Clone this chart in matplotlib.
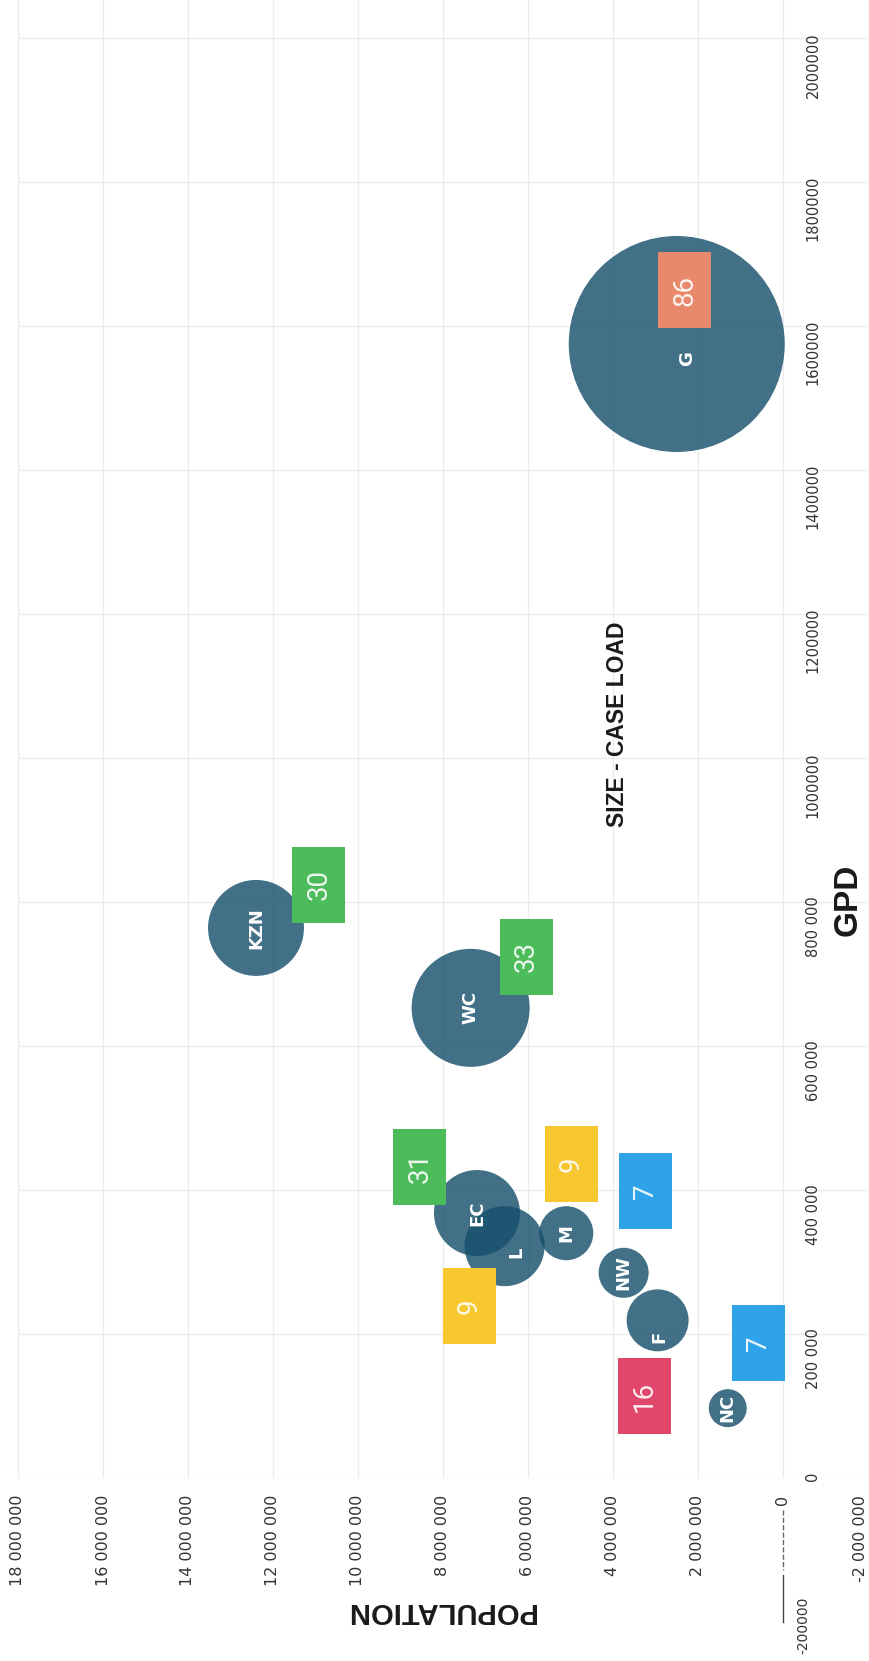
import matplotlib
matplotlib.use('Agg')
import matplotlib.pyplot as plt
import matplotlib.transforms as mtransforms
from matplotlib.patches import Rectangle
from matplotlib.lines import Line2D
import numpy as np

# Daten (Provinzen)
provinces = ['G', 'KZN', 'WC', 'EC', 'L', 'M', 'NW', 'F', 'NC']
population = [2500000, 12400000, 7350000, 7200000, 6550000, 5100000, 3750000, 2950000, 1300000]
gpd = [1575000, 764000, 653000, 368000, 322000, 340000, 285000, 219000, 97000]
case_load = [116.6, 23.0, 34.8, 18.5, 16.0, 7.3, 6.25, 9.6, 3.6]

# Kennzahl in den Kaestchen
box_values = [86, 30, 33, 31, 9, 9, 7, 16, 7]
box_colors = ['#e8896b', '#4cbb5a', '#4cbb5a', '#4cbb5a', '#f6c72f', '#f6c72f',
              '#2ea3ea', '#e0476b', '#2ea3ea']

pop_ticks = [18000000, 16000000, 14000000, 12000000, 10000000, 8000000,
             6000000, 4000000, 2000000, 0, -2000000]
pop_ticklabels = ['18 000 000', '16 000 000', '14 000 000', '12 000 000', '10 000 000',
                  '8 000 000', '6 000 000', '4 000 000', '2 000 000', '0', '-2 000 000']
gpd_ticks = [0, 200000, 400000, 600000, 800000, 1000000, 1200000, 1400000,
             1600000, 1800000, 2000000]
gpd_ticklabels = ['0', '200 000', '400 000', '600 000', '800 000', '1000000',
                  '1200000', '1400000', '1600000', '1800000', '2000000']

# Layout (Pixel am Bildschirm: rechts, oben)
box_dx = [8, 63, 56, -57, -35, 5, 22, -13, 31]
box_dy = [54, 43, 51, 46, -60, 69, 82, -76, 65]
lab_dx = [10, 0, 0, 0, 12, 0, 0, 2, 0]
lab_dy = [-15, 0, 0, 0, -6, 0, 0, -17, 0]

W, H = 869, 1661
fig = plt.figure(figsize=(W / 100, H / 100), dpi=100)
ax = fig.add_axes([18 / W, 1 - 1478 / H, 850 / W, 1478 / H])
ax.set_xlim(18000000, -2000000)
ax.set_ylim(0, 1478 / 720 * 1e6)
for s in ax.spines.values():
    s.set_visible(False)

ax.set_xticks(pop_ticks)
ax.set_xticklabels(pop_ticklabels, rotation=90, fontsize=11.5, color='#333333')
ax.get_xticklabels()[-1].set_ha('right')   # letzter Wert am Bildrand
ax.set_yticks(gpd_ticks)
ax.set_yticklabels(gpd_ticklabels, rotation=90, fontsize=10.5, color='#333333')
ax.tick_params(axis='x', length=0, pad=12)
ax.tick_params(axis='y', length=0, left=False, labelleft=False,
               right=True, labelright=True, pad=-45)
ax.grid(True, color='#ebebeb', linewidth=1.0)
ax.set_axisbelow(True)

# Blasen
sizes = np.array(case_load) * 207.4
ax.scatter(population, gpd, s=sizes, color='#17516d', alpha=0.82,
           edgecolors='none', zorder=3)

bold = ['Liberation Sans', 'DejaVu Sans']

fig.canvas.draw()
to_px = ax.transData
for i, p in enumerate(provinces):
    ax.annotate(p, (population[i], gpd[i]), xytext=(lab_dx[i], lab_dy[i]),
                textcoords='offset pixels', rotation=90, ha='center', va='center',
                color='white', fontsize=13, fontweight='bold', zorder=5)
    cx, cy = to_px.transform((population[i], gpd[i]))
    bx, by = cx + box_dx[i], cy + box_dy[i]
    rect = Rectangle((bx - 26.5, by - 38), 53, 76, transform=mtransforms.IdentityTransform(),
                     facecolor=box_colors[i], edgecolor='none', zorder=6)
    fig.add_artist(rect)
    fig.text(bx / W, by / H, str(box_values[i]), rotation=90, ha='center', va='center',
             fontsize=20, family=['Roboto', 'DejaVu Sans'], color='white', alpha=0.9,
             zorder=7)

# Achsentitel
fig.text(848 / W, 1 - 900 / H, 'GPD', rotation=90, ha='center', va='center',
         fontsize=24, fontweight='bold', family=bold, color='#1a1a1a')
fig.text(440 / W, 1 - 1611 / H, 'POPULATION', rotation=180, ha='center', va='center',
         fontsize=21, fontweight='bold', family=bold, color='#1a1a1a')
fig.text(618 / W, 1 - 724 / H, 'SIZE - CASE LOAD', rotation=90, ha='center', va='center',
         fontsize=16.5, fontweight='bold', family=bold, color='#1a1a1a')

# Reste der Originalachse
fig.text(803 / W, 1 - 1625 / H, '-200000', rotation=90, ha='center', va='center',
         fontsize=10, color='#333333')
fig.add_artist(Line2D([783 / W, 783 / W], [1 - 1510 / H, 1 - 1570 / H],
                      transform=fig.transFigure, color='#666666', lw=1, ls='--'))
fig.add_artist(Line2D([783 / W, 783 / W], [1 - 1575 / H, 1 - 1622 / H],
                      transform=fig.transFigure, color='#444444', lw=1))

fig.savefig('out.png', dpi=100)
